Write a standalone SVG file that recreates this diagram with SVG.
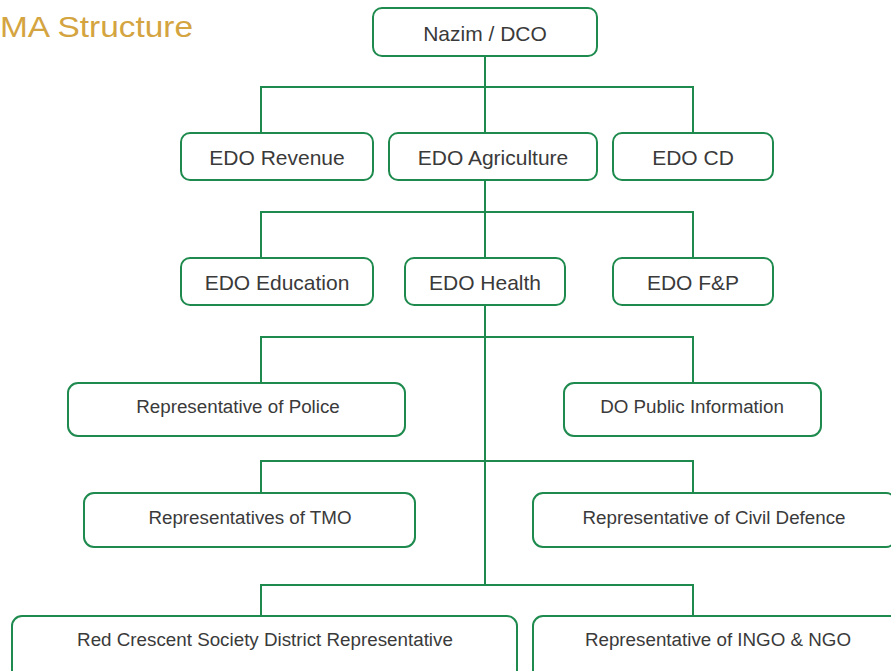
<svg xmlns="http://www.w3.org/2000/svg" width="891" height="671" viewBox="0 0 891 671">
<style>
.box{fill:#ffffff;stroke:#1E8A4E;stroke-width:2}
.con{fill:none;stroke:#1E8A4E;stroke-width:2}
.lg{font-family:"Liberation Sans",Arial,sans-serif;font-size:21px;fill:#3a3a3a;text-anchor:middle}
.sm{font-family:"Liberation Sans",Arial,sans-serif;font-size:18.8px;fill:#3a3a3a;text-anchor:middle}
.title{font-family:"Liberation Sans",Arial,sans-serif;font-size:30px;fill:#D4A440}
</style>
<rect width="891" height="671" fill="#ffffff"/>
<text class="title" x="0" y="37" textLength="193" lengthAdjust="spacingAndGlyphs">MA Structure</text>
<g id="connectors">
<path class="con" d="M485 56 V585"/>
<path class="con" d="M261 133 V87 H693 V133"/>
<path class="con" d="M261 258 V212 H693 V258"/>
<path class="con" d="M261 383 V337 H693 V383"/>
<path class="con" d="M261 493 V461 H693 V493"/>
<path class="con" d="M261 616 V585 H693 V616"/>
</g>
<g id="nazim"><rect class="box" x="373" y="8" width="224" height="48" rx="9"/><text class="lg" x="485" y="41">Nazim / DCO</text></g>
<g id="edo-revenue"><rect class="box" x="181" y="133" width="192" height="47" rx="9"/><text class="lg" x="277" y="165">EDO Revenue</text></g>
<g id="edo-agriculture"><rect class="box" x="389" y="133" width="208" height="47" rx="9"/><text class="lg" x="493" y="165">EDO Agriculture</text></g>
<g id="edo-cd"><rect class="box" x="613" y="133" width="160" height="47" rx="9"/><text class="lg" x="693" y="165">EDO CD</text></g>
<g id="edo-education"><rect class="box" x="181" y="258" width="192" height="47" rx="9"/><text class="lg" x="277" y="290">EDO Education</text></g>
<g id="edo-health"><rect class="box" x="405" y="258" width="160" height="47" rx="9"/><text class="lg" x="485" y="290">EDO Health</text></g>
<g id="edo-fp"><rect class="box" x="613" y="258" width="160" height="47" rx="9"/><text class="lg" x="693" y="290">EDO F&amp;P</text></g>
<g id="police"><rect class="box" x="68" y="383" width="337" height="53" rx="10"/><text class="sm" x="238" y="413">Representative of Police</text></g>
<g id="do-public-info"><rect class="box" x="564" y="383" width="257" height="53" rx="10"/><text class="sm" x="692" y="413">DO Public Information</text></g>
<g id="tmo"><rect class="box" x="84" y="493" width="331" height="54" rx="10"/><text class="sm" x="250" y="524">Representatives of TMO</text></g>
<g id="civil-defence"><rect class="box" x="533" y="493" width="363" height="54" rx="10"/><text class="sm" x="714" y="524">Representative of Civil Defence</text></g>
<g id="red-crescent"><rect class="box" x="12" y="616" width="505" height="70" rx="10"/><text class="sm" x="265" y="646">Red Crescent Society District Representative</text></g>
<g id="ingo-ngo"><rect class="box" x="533" y="616" width="370" height="70" rx="10"/><text class="sm" x="718" y="646">Representative of INGO &amp; NGO</text></g>
</svg>
